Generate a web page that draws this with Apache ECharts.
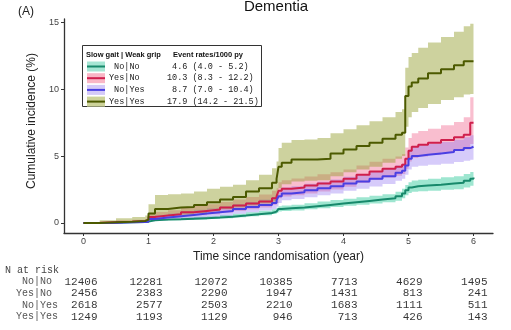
<!DOCTYPE html>
<html>
<head>
<meta charset="utf-8">
<script src="https://cdn.jsdelivr.net/npm/echarts@6/dist/echarts.min.js"></script>
<style>
html,body{margin:0;padding:0;background:#fff;}
#chart{width:511px;height:330px;}
</style>
</head>
<body>
<div id="chart"></div>
<script>
// ---------- data ----------
const times = [0, 0.25, 0.5, 0.75, 0.95, 1.0, 1.1, 1.3, 1.5, 1.7, 1.9, 2.1, 2.3, 2.5, 2.7, 2.9, 2.97, 3.0, 3.05, 3.2, 3.4, 3.6, 3.8, 4.0, 4.2, 4.4, 4.6, 4.8, 4.9, 4.95, 5.0, 5.05, 5.15, 5.3, 5.5, 5.7, 5.85, 5.95, 6.0];

const noNoLine  = [0, 0.02, 0.05, 0.08, 0.1, 0.2, 0.25, 0.28, 0.32, 0.36, 0.4, 0.47, 0.55, 0.65, 0.75, 0.85, 0.95, 1.05, 1.1, 1.15, 1.25, 1.35, 1.45, 1.55, 1.65, 1.75, 1.85, 2.0, 2.2, 2.45, 2.65, 2.75, 2.8, 2.85, 2.95, 3.0, 3.15, 3.3, 3.4];
const noNoLower = [0, 0.01, 0.03, 0.05, 0.07, 0.14, 0.18, 0.2, 0.23, 0.26, 0.29, 0.35, 0.42, 0.5, 0.58, 0.67, 0.76, 0.85, 0.9, 0.94, 1.02, 1.1, 1.19, 1.28, 1.37, 1.46, 1.55, 1.67, 1.85, 2.07, 2.25, 2.33, 2.37, 2.4, 2.48, 2.52, 2.65, 2.78, 2.88];
const noNoUpper = [0, 0.03, 0.07, 0.11, 0.13, 0.26, 0.32, 0.36, 0.41, 0.46, 0.51, 0.59, 0.68, 0.8, 0.92, 1.03, 1.14, 1.25, 1.3, 1.36, 1.48, 1.6, 1.71, 1.82, 1.93, 2.04, 2.15, 2.33, 2.55, 2.83, 3.05, 3.17, 3.23, 3.3, 3.42, 3.5, 3.66, 3.82, 3.92];

const yesNoLine  = [0, 0.05, 0.1, 0.15, 0.2, 0.45, 0.55, 0.65, 0.8, 0.9, 1.0, 1.15, 1.3, 1.45, 1.6, 1.85, 2.0, 2.4, 2.55, 2.65, 2.8, 2.95, 3.1, 3.3, 3.6, 3.85, 4.05, 4.2, 4.35, 4.8, 5.4, 5.7, 5.85, 6.0, 6.2, 6.4, 6.6, 7.5, 7.5];
const yesNoLower = [0, 0.0, 0.02, 0.06, 0.1, 0.25, 0.33, 0.39, 0.5, 0.58, 0.65, 0.78, 0.9, 1.03, 1.15, 1.35, 1.48, 1.85, 1.98, 2.07, 2.21, 2.35, 2.5, 2.7, 2.98, 3.22, 3.4, 3.53, 3.67, 4.05, 4.6, 4.85, 4.97, 5.1, 5.27, 5.43, 5.5, 5.9, 5.9];
const yesNoUpper = [0, 0.12, 0.2, 0.25, 0.3, 0.7, 0.82, 0.95, 1.15, 1.27, 1.4, 1.57, 1.75, 1.95, 2.12, 2.4, 2.6, 3.05, 3.2, 3.32, 3.48, 3.65, 3.8, 4.0, 4.3, 4.57, 4.8, 4.97, 5.15, 5.65, 6.35, 6.7, 6.87, 7.05, 7.3, 7.55, 7.9, 9.4, 9.4];

const noYesLine  = [0, 0.02, 0.05, 0.08, 0.1, 0.3, 0.4, 0.5, 0.6, 0.7, 0.8, 0.9, 1.05, 1.2, 1.35, 1.5, 1.7, 2.0, 2.2, 2.3, 2.45, 2.6, 2.75, 2.95, 3.1, 3.3, 3.5, 3.75, 3.9, 4.3, 4.8, 5.0, 5.1, 5.2, 5.3, 5.45, 5.6, 5.7, 5.75];
const noYesLower = [0, 0, 0.02, 0.04, 0.05, 0.12, 0.2, 0.28, 0.3, 0.38, 0.46, 0.54, 0.68, 0.81, 0.93, 1.05, 1.22, 1.5, 1.7, 1.8, 1.92, 2.07, 2.2, 2.4, 2.55, 2.73, 2.92, 3.15, 3.3, 3.6, 4.0, 4.2, 4.27, 4.35, 4.43, 4.55, 4.65, 4.72, 4.75];
const noYesUpper = [0, 0.04, 0.09, 0.13, 0.15, 0.48, 0.6, 0.7, 0.87, 0.98, 1.1, 1.23, 1.4, 1.57, 1.75, 1.95, 2.15, 2.45, 2.65, 2.75, 2.93, 3.08, 3.25, 3.45, 3.6, 3.82, 4.03, 4.3, 4.45, 4.85, 5.5, 5.72, 5.82, 5.93, 6.05, 6.22, 6.4, 6.55, 6.65];

const yesYesLine  = [0, 0.05, 0.1, 0.15, 0.25, 0.7, 1.05, 1.15, 1.2, 1.35, 1.55, 1.75, 1.95, 2.35, 2.6, 3.0, 3.3, 4.2, 4.5, 4.75, 4.75, 4.8, 5.2, 5.5, 5.75, 6.0, 6.3, 6.6, 6.75, 9.5, 10.2, 10.5, 10.8, 11.2, 11.5, 11.8, 12.1, 12.1, 12.1];
const yesYesLower = [0, 0, 0, 0, 0.02, 0.3, 0.5, 0.58, 0.62, 0.72, 0.88, 1.02, 1.15, 1.3, 1.45, 1.6, 1.85, 2.6, 2.9, 3.1, 3.15, 3.2, 3.5, 3.8, 4.0, 4.2, 4.5, 4.8, 5.0, 7.2, 7.9, 8.3, 8.6, 8.9, 9.2, 9.4, 9.6, 9.65, 9.7];
const yesYesUpper = [0, 0.2, 0.35, 0.45, 0.55, 1.4, 2.1, 2.15, 2.2, 2.35, 2.55, 2.7, 2.85, 3.2, 3.6, 4.1, 4.6, 5.6, 6.0, 6.2, 6.25, 6.35, 6.7, 7.0, 7.3, 7.6, 7.9, 8.3, 8.5, 11.6, 12.4, 12.7, 13.1, 13.5, 13.9, 14.3, 14.7, 14.9, 14.9];

const groupLabels = ['No|No', 'Yes|No', 'No|Yes', 'Yes|Yes'];
const eventRates = ['4.6 (4.0 - 5.2)', '10.3 (8.3 - 12.2)', '8.7 (7.0 - 10.4)', '17.9 (14.2 - 21.5)'];

const xTicks = [0, 1, 2, 3, 4, 5, 6];
const yTicks = [0, 5, 10, 15];

const riskNoNo   = [12406, 12281, 12072, 10385, 7713, 4629, 1495];
const riskYesNo  = [2456, 2383, 2290, 1947, 1431, 813, 241];
const riskNoYes  = [2618, 2577, 2503, 2210, 1683, 1111, 511];
const riskYesYes = [1249, 1193, 1129, 946, 713, 426, 143];

// ---------- styling ----------
const lineColors = ['#17896b', '#cf1f4c', '#4a3fe2', '#4c5a00'];
const bandColors = ['rgba(40,200,150,0.45)', 'rgba(240,100,140,0.42)', 'rgba(140,110,240,0.36)', 'rgba(145,155,40,0.45)'];
const swatchColors = ['#a6e6d4', '#f9b6c6', '#d4caf8', '#cdd39a'];

const lines = [noNoLine, yesNoLine, noYesLine, yesYesLine];
const lowers = [noNoLower, yesNoLower, noYesLower, yesYesLower];
const uppers = [noNoUpper, yesNoUpper, noYesUpper, yesYesUpper];
const risks = [riskNoNo, riskYesNo, riskNoYes, riskYesYes];

const SANS = 'Liberation Sans, Arial, sans-serif';
const MONO = 'Liberation Mono, DejaVu Sans Mono, monospace';

function bandRenderer(lower, upper, color) {
  return function (params, api) {
    if (params.dataIndex !== 0) return null;
    const n = times.length;
    const pts = [];
    for (let i = 0; i < n; i++) {
      pts.push(api.coord([times[i], upper[i]]));
      if (i < n - 1) pts.push(api.coord([times[i + 1], upper[i]]));
    }
    for (let i = n - 1; i >= 0; i--) {
      pts.push(api.coord([times[i], lower[i]]));
      if (i > 0) pts.push(api.coord([times[i], lower[i - 1]]));
    }
    return { type: 'polygon', shape: { points: pts }, style: { fill: color } };
  };
}

const series = [];
// confidence bands
for (let g = 0; g < 4; g++) {
  series.push({
    type: 'custom', xAxisIndex: 0, yAxisIndex: 0, silent: true, clip: true, z: 1,
    renderItem: bandRenderer(lowers[g], uppers[g], bandColors[g]),
    encode: { x: 0, y: [1, 2] },
    data: times.map((t, i) => [t, lowers[g][i], uppers[g][i]])
  });
}
// step lines
for (let g = 0; g < 4; g++) {
  series.push({
    type: 'line', xAxisIndex: 0, yAxisIndex: 0, step: 'end', symbol: 'none', silent: true,
    lineStyle: { color: lineColors[g], width: 2 },
    data: times.map((t, i) => [t, lines[g][i]]), z: 3
  });
}
// risk table
const riskData = [];
risks.forEach((row, r) => row.forEach((n, i) => riskData.push([xTicks[i], r, n])));
series.push({
  type: 'scatter', xAxisIndex: 1, yAxisIndex: 1, symbolSize: 1, silent: true,
  itemStyle: { color: 'rgba(0,0,0,0)' },
  data: riskData,
  label: {
    show: true, position: 'inside', align: 'right', verticalAlign: 'middle', offset: [14, 0],
    formatter: p => String(p.value[2]), fontFamily: MONO, fontSize: 11, color: '#000'
  }
});

// legend graphic
const legendChildren = [
  { type: 'rect', shape: { x: 0.5, y: 0.5, width: 179, height: 61 }, style: { fill: '#fff', stroke: '#333', lineWidth: 1 } },
  { type: 'text', x: 4, y: 10, style: { text: 'Slow gait | Weak grip', fontFamily: SANS, fontWeight: 'bold', fontSize: 7.5, fill: '#111', align: 'left', verticalAlign: 'middle' } },
  { type: 'text', x: 91, y: 10, style: { text: 'Event rates/1000 py', fontFamily: SANS, fontWeight: 'bold', fontSize: 7.5, fill: '#111', align: 'left', verticalAlign: 'middle' } }
];
const padLabels = [' No|No', 'Yes|No', ' No|Yes', 'Yes|Yes'];
const padRates = [' ', '', ' ', ''];
for (let g = 0; g < 4; g++) {
  const cy = 21.5 + g * 11.7;
  legendChildren.push({ type: 'rect', shape: { x: 5, y: cy - 5, width: 18, height: 10 }, style: { fill: swatchColors[g] } });
  legendChildren.push({ type: 'line', shape: { x1: 5, y1: cy, x2: 23, y2: cy }, style: { stroke: lineColors[g], lineWidth: 2 } });
  legendChildren.push({ type: 'text', x: 27, y: cy, style: { text: padLabels[g], fontFamily: MONO, fontSize: 8.5, fill: '#222', align: 'left', verticalAlign: 'middle' } });
  legendChildren.push({ type: 'text', x: 85, y: cy, style: { text: padRates[g] + eventRates[g], fontFamily: MONO, fontSize: 8.5, fill: '#222', align: 'left', verticalAlign: 'middle' } });
}

const option = {
  animation: false,
  backgroundColor: '#fff',
  grid: [
    { left: 64, right: 18, top: 19, bottom: 97 },
    { left: 64, right: 18, top: 276, height: 46.4 }
  ],
  xAxis: [
    {
      gridIndex: 0, type: 'value', min: -0.3, max: 6.3,
      axisLine: { onZero: false, lineStyle: { color: '#333', width: 1.3 } },
      axisTick: { customValues: xTicks, length: 3, lineStyle: { color: '#333' } },
      axisLabel: { customValues: xTicks, fontSize: 9, color: '#444', margin: 4, fontFamily: SANS },
      splitLine: { show: false },
      name: 'Time since randomisation (year)', nameLocation: 'middle', nameGap: 17,
      nameTextStyle: { fontSize: 12, color: '#222', fontFamily: SANS }
    },
    { gridIndex: 1, type: 'value', min: -0.3, max: 6.3, show: false }
  ],
  yAxis: [
    {
      gridIndex: 0, type: 'value', min: -0.75, max: 15.25,
      axisLine: { show: true, onZero: false, lineStyle: { color: '#333', width: 1.3 } },
      axisTick: { show: true, customValues: yTicks, length: 3, lineStyle: { color: '#333' } },
      axisLabel: { customValues: yTicks, fontSize: 9, color: '#444', margin: 5, fontFamily: SANS },
      splitLine: { show: false }
    },
    {
      gridIndex: 1, type: 'category', inverse: true,
      data: ['No|No ', 'Yes|No ', 'No|Yes', 'Yes|Yes'],
      axisLine: { show: false }, axisTick: { show: false },
      axisLabel: { interval: 0, fontFamily: MONO, fontSize: 10, color: '#555', margin: 6 }
    }
  ],
  series: series,
  graphic: [
    { type: 'text', x: 276, y: 7, style: { text: 'Dementia', fontFamily: SANS, fontSize: 15, fill: '#111', align: 'center', verticalAlign: 'middle' } },
    { type: 'text', x: 26, y: 12, style: { text: '(A)', fontFamily: SANS, fontSize: 12, fill: '#222', align: 'center', verticalAlign: 'middle' } },
    { type: 'text', x: 32, y: 121, rotation: Math.PI / 2, style: { text: 'Cumulative incidence (%)', fontFamily: SANS, fontSize: 12, fill: '#222', align: 'center', verticalAlign: 'middle' } },
    { type: 'text', x: 5, y: 270, style: { text: 'N at risk', fontFamily: MONO, fontSize: 10, fill: '#444', align: 'left', verticalAlign: 'middle' } },
    { type: 'group', x: 82, y: 45, children: legendChildren }
  ]
};

const chart = echarts.init(document.getElementById('chart'), null, { renderer: 'canvas' });
chart.setOption(option);
</script>
</body>
</html>
